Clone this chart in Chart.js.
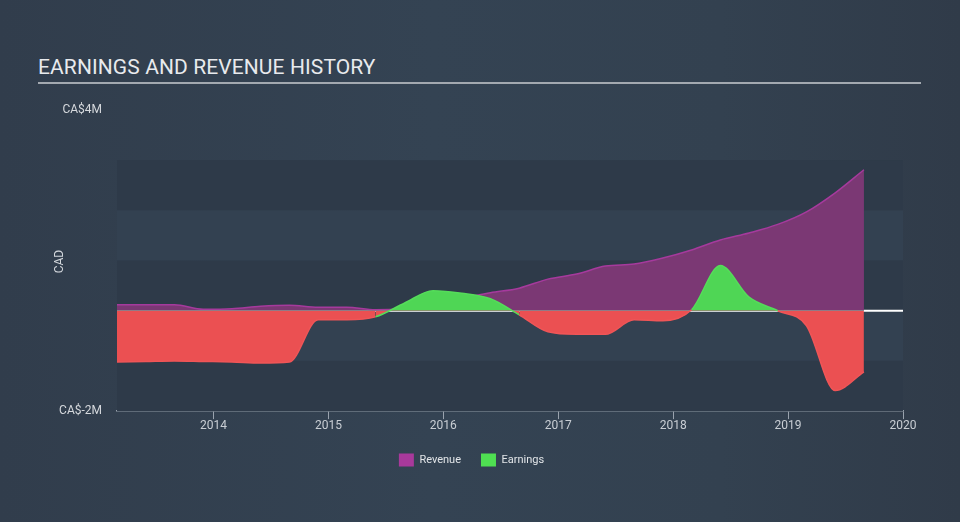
<!DOCTYPE html>
<html>
<head>
<meta charset="utf-8">
<script src="https://cdn.jsdelivr.net/npm/chart.js@4"></script>
<style>
  html, body { margin: 0; padding: 0; }
  body {
    width: 960px; height: 522px; overflow: hidden; position: relative;
    background: linear-gradient(90deg, #313d4c 0%, #344353 45%, #334150 75%, #303b49 100%);
    font-family: Roboto, "Open Sans", sans-serif;
  }
  .title {
    position: absolute; left: 38px; top: 55px; width: 883px;
    color: #e8eaed; font-size: 21px; letter-spacing: 0.1px;
    padding-bottom: 3px; border-bottom: 2px solid #a3a9b0;
    line-height: 24px;
  }
  #wrap { position: absolute; left: 0; top: 0; width: 960px; height: 522px; }
</style>
</head>
<body>
<div class="title">EARNINGS AND REVENUE HISTORY</div>
<div id="wrap"><canvas id="myChart"></canvas></div>
<script>
// quarters as decimal years
let quarters = [
  2013.16, 2013.41, 2013.66, 2013.91, 2014.16, 2014.41, 2014.66, 2014.91,
  2015.16, 2015.41, 2015.66, 2015.91, 2016.16, 2016.41, 2016.66, 2016.91,
  2017.16, 2017.41, 2017.66, 2017.91, 2018.16, 2018.41, 2018.66, 2018.91,
  2019.16, 2019.41, 2019.66,
];
// CA$ millions
let revenue = [
  0.12, 0.12, 0.12, 0.03, 0.04, 0.09, 0.11, 0.07,
  0.07, 0.02, 0.05, 0.15, 0.25, 0.36, 0.45, 0.63,
  0.73, 0.89, 0.93, 1.05, 1.21, 1.41, 1.55, 1.72,
  1.97, 2.35, 2.81,
];
let earnings = [
  -1.02, -1.01, -1.0, -1.01, -1.02, -1.04, -1.02, -0.18,
  -0.18, -0.12, 0.15, 0.4, 0.35, 0.24, -0.08, -0.42,
  -0.47, -0.47, -0.18, -0.2, 0.02, 0.9, 0.27, 0.0,
  -0.3, -1.59, -1.22,
];
let yearTicks = [2014, 2015, 2016, 2017, 2018, 2019, 2020];
let valueTicks = [-2, 4];
let bandEdges = [3, 2, 1, 0, -1, -2];

function toPoints(arr) {
  return quarters.map((q, i) => ({ x: q, y: arr[i] }));
}

// nền xen kẽ + đường zero + chữ CAD
const bgPlugin = {
  id: "bands",
  beforeDatasetsDraw(chart) {
    const { ctx, chartArea, scales } = chart;
    const y = scales.y;
    ctx.save();
    for (let i = 0; i < bandEdges.length - 1; i++) {
      const top = y.getPixelForValue(bandEdges[i]);
      const bot = y.getPixelForValue(bandEdges[i + 1]);
      ctx.fillStyle = i % 2 === 0 ? "#2e3a49" : "#334151";
      ctx.fillRect(chartArea.left, top, chartArea.right - chartArea.left, bot - top);
    }
    const z = y.getPixelForValue(0);
    ctx.strokeStyle = "#ffffff";
    ctx.lineWidth = 2;
    ctx.beginPath();
    ctx.moveTo(chartArea.left, z);
    ctx.lineTo(chartArea.right, z);
    ctx.stroke();
    ctx.restore();
  },
  afterDraw(chart) {
    const { ctx, chartArea } = chart;
    ctx.save();
    ctx.translate(60, (chartArea.top + chartArea.bottom) / 2 + 1);
    ctx.rotate(-Math.PI / 2);
    ctx.fillStyle = "#d3d7dc";
    ctx.font = "12px Roboto";
    ctx.textAlign = "center";
    ctx.textBaseline = "middle";
    ctx.fillText("CAD", 0, 0);
    ctx.restore();
  },
};

let myChart = new Chart("myChart", {
  type: "line",
  data: {
    datasets: [
      {
        label: "Revenue",
        data: toPoints(revenue),
        borderColor: "#a63a9d",
        backgroundColor: "#7b3874",
        borderWidth: 1.5,
        pointRadius: 0,
        fill: "origin",
        cubicInterpolationMode: "monotone",
        order: 2,
      },
      {
        label: "Earnings",
        data: toPoints(earnings),
        borderColor: "#4fd655",
        backgroundColor: "#4fd655",
        borderWidth: 1.5,
        pointRadius: 0,
        fill: { target: "origin", above: "#4fd655", below: "#eb5052" },
        cubicInterpolationMode: "monotone",
        segment: {
          borderColor: (c) => (c.p0.parsed.y + c.p1.parsed.y < 0 ? "#f05557" : "#55dc5a"),
        },
        order: 1,
      },
    ],
  },
  options: {
    responsive: true,
    maintainAspectRatio: false,
    animation: false,
    layout: { padding: { left: 40, top: 110, right: 57, bottom: 45.5 } },
    plugins: {
      legend: {
        position: "bottom",
        labels: {
          boxWidth: 15,
          boxHeight: 13,
          padding: 20,
          color: "#e2e5e8",
          font: { family: "Roboto", size: 11 },
          sort: (a, b) => a.datasetIndex - b.datasetIndex,
          generateLabels: (chart) =>
            chart.data.datasets.map((d, i) => ({
              text: d.label,
              fillStyle: i === 0 ? "#a8399b" : "#4fe052",
              strokeStyle: i === 0 ? "#a8399b" : "#4fe052",
              lineWidth: 0,
              fontColor: "#e2e5e8",
              datasetIndex: i,
            })),
        },
      },
      tooltip: { enabled: false },
    },
    scales: {
      x: {
        type: "linear",
        min: 2013.16,
        max: 2020,
        afterBuildTicks: (axis) => {
          axis.ticks = yearTicks.map((v) => ({ value: v }));
        },
        grid: { drawOnChartArea: false, drawTicks: true, tickLength: 8, color: "#9aa3ae" },
        border: { display: true, color: "#9aa3ae", width: 1.5 },
        ticks: {
          color: "#c9ced4",
          font: { family: "Roboto", size: 12 },
          padding: 0,
          maxRotation: 0,
          callback: (v) => String(v),
        },
      },
      y: {
        min: -2,
        max: 4,
        afterBuildTicks: (axis) => {
          axis.ticks = valueTicks.map((v) => ({ value: v }));
        },
        afterFit: (axis) => {
          axis.width = 77;
        },
        grid: { display: false, drawTicks: false },
        border: { display: false },
        ticks: {
          color: "#d6d9dd",
          font: { family: "Roboto", size: 12 },
          padding: 15,
          callback: (v) => "CA$" + v + "M",
        },
      },
    },
  },
  plugins: [bgPlugin],
});
</script>
</body>
</html>
